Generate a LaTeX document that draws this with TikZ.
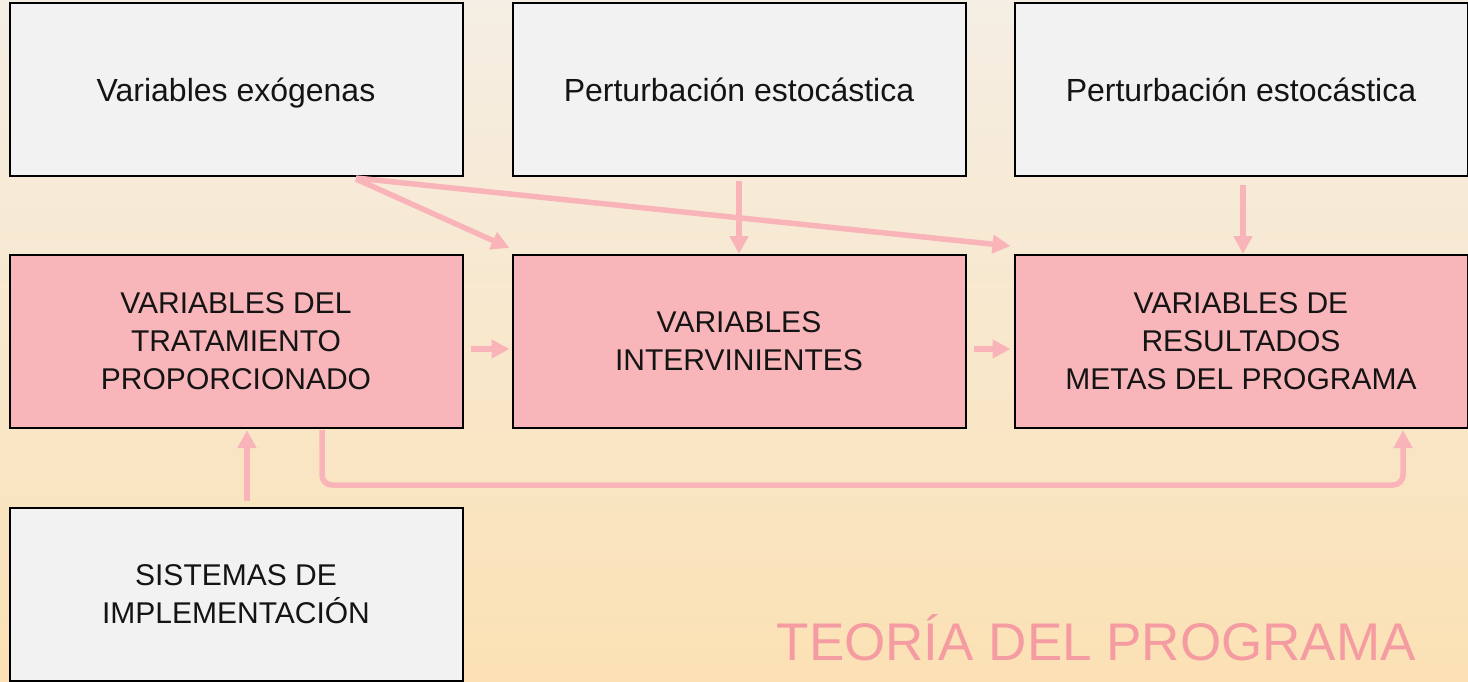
\documentclass[tikz,border=0pt]{standalone}
\usepackage{fontspec}
\setmainfont{Liberation Sans}
\usetikzlibrary{arrows.meta,calc}
\definecolor{bgtop}{RGB}{245,238,228}
\definecolor{bgbot}{RGB}{251,225,180}
\definecolor{boxgrey}{RGB}{242,242,242}
\definecolor{boxpink}{RGB}{248,182,186}
\definecolor{arrpink}{RGB}{249,180,186}
\definecolor{titlepink}{RGB}{245,156,163}
\tikzset{
  box/.style={draw=black, line width=2pt, inner sep=0pt, minimum width=453pt, minimum height=173pt, align=center, font=\fontsize{30}{38}\selectfont, text=black!92},
  greybox/.style={box, fill=boxgrey},
  pinkbox/.style={box, fill=boxpink},
  single/.style={font=\fontsize{32}{38}\selectfont, text height=28pt, text depth=5pt},
  arr/.style={draw=arrpink, line width=5.5pt, -{Triangle[length=18pt,width=18pt]}},
}
\begin{document}
\begin{tikzpicture}[x=1pt,y=-1pt]
\shade[top color=bgtop, bottom color=bgbot] (0,0) rectangle (1468,681);
\useasboundingbox (0,0) rectangle (1468,681);
\node[greybox, single] (A) at (236,89.5) {Variables exógenas};
\node[greybox, single] (B) at (739,89.5) {Perturbación estocástica};
\node[greybox, single] (C) at (1241,89.5) {Perturbación estocástica};
\node[pinkbox] (D) at (236,341.5) {VARIABLES DEL\\TRATAMIENTO\\PROPORCIONADO};
\node[pinkbox] (E) at (739,341.5) {VARIABLES\\INTERVINIENTES};
\node[pinkbox] (F) at (1241,341.5) {VARIABLES DE\\RESULTADOS\\METAS DEL PROGRAMA};
\node[greybox] (G) at (236,594) {SISTEMAS DE\\IMPLEMENTACIÓN};
\node[anchor=base east, text=titlepink, font=\fontsize{53}{60}\selectfont, inner sep=0pt] (T) at (1416,660) {TEORÍA DEL PROGRAMA};
% arrows
\draw[arr] ([xshift=120pt,yshift=-2pt]A.south) -- ([xshift=-2pt,yshift=6pt]E.north west);
\draw[arr] ([xshift=120pt,yshift=-1pt]A.south) -- ([xshift=-3pt,yshift=8pt]F.north west);
\draw[arr] ([yshift=-4pt]B.south) -- (E.north);
\draw[arr] ([xshift=2pt,yshift=-8pt]C.south) -- ([xshift=2pt]F.north);
\draw[arr] ([xshift=7pt,yshift=-7.5pt]D.east) -- ([xshift=-2pt,yshift=-7.5pt]E.west);
\draw[arr] ([xshift=7pt,yshift=-7.5pt]E.east) -- ([xshift=-3pt,yshift=-7.5pt]F.west);
\draw[arr] ([xshift=11pt,yshift=6pt]G.north) -- ([xshift=11pt,yshift=-1pt]D.south);
\coordinate (L) at ([xshift=86pt,yshift=-1pt]D.south);
\coordinate (R) at ([xshift=162pt,yshift=-1pt]F.south);
\draw[arr, rounded corners=10pt] (L) -- ($(L)+(0,55)$) -- ($(R)+(0,55)$) -- (R);
\end{tikzpicture}
\end{document}
